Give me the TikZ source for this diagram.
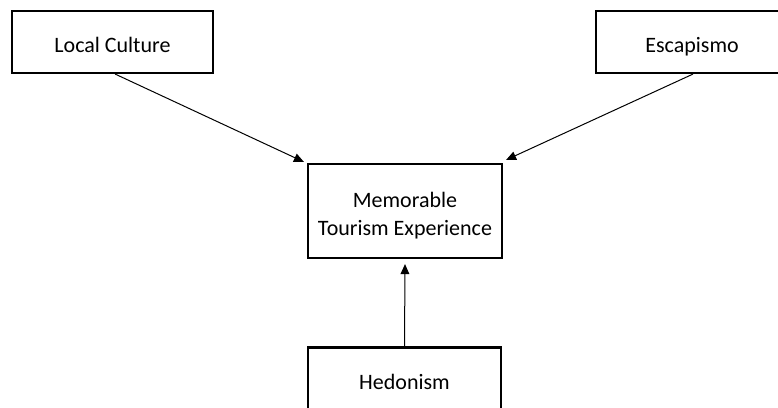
\documentclass[tikz,border=0pt]{standalone}
\usepackage{fontspec}
\setmainfont{Carlito}
\usetikzlibrary{arrows.meta}
\begin{document}
\begin{tikzpicture}[x=0.75pt,y=-0.75pt,
  box/.style={draw, line width=1.6pt, inner sep=0pt,
    font=\fontsize{16.5}{21.4}\selectfont},
  oneline/.style={text height=15.5pt, text depth=0pt},
  arr/.style={-{Triangle[length=7.5pt,width=6.5pt]}, line width=0.75pt}]
\useasboundingbox (0,0) rectangle (778,407);
\clip (0,0) rectangle (778,407);
% factor boxes
\node[box, oneline, minimum width=150.75pt, minimum height=46.5pt] (lc) at (112.5,42) {Local Culture};
\node[box, oneline, minimum width=144pt, minimum height=46.5pt] (esc) at (692,42) {Escapismo};
\node[box, text height=29.25pt, text depth=13.55pt,
      minimum width=145.5pt, minimum height=70.5pt] (mte) at (405,211)
  {\begin{tabular}{@{}c@{}}Memorable\\Tourism Experience\end{tabular}};
\node[box, oneline, minimum width=144.75pt, minimum height=48pt] (hed) at (404.5,379.5) {Hedonism};
% influences
\draw[arr] ([xshift=2pt]lc.south) -- ([shift={(-3,-1)}]mte.north west);
\draw[arr] ([xshift=0.75pt]esc.south) -- ([shift={(3,-3)}]mte.north east);
\draw[arr] (hed.north) -- ([yshift=-3.75pt]mte.south);
\end{tikzpicture}
\end{document}
